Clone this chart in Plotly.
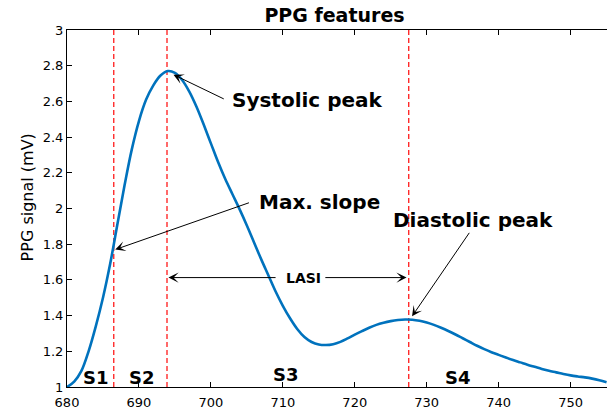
import plotly.graph_objects as go

# --- data ---
time_ms = list(range(680, 756))
ppg_mv = [1.00, 1.03, 1.09, 1.20, 1.34, 1.50, 1.69, 1.91, 2.13, 2.33,
          2.49, 2.61, 2.69, 2.745, 2.77, 2.76, 2.72, 2.655, 2.57, 2.47,
          2.365, 2.26, 2.165, 2.08, 1.995, 1.905, 1.81, 1.715, 1.625, 1.535,
          1.455, 1.385, 1.325, 1.28, 1.252, 1.238, 1.235, 1.24, 1.253, 1.272,
          1.293, 1.313, 1.332, 1.348, 1.36, 1.369, 1.375, 1.378, 1.377, 1.371,
          1.361, 1.348, 1.332, 1.314, 1.294, 1.273, 1.252, 1.231, 1.212, 1.195,
          1.18, 1.165, 1.151, 1.138, 1.125, 1.113, 1.101, 1.091, 1.082, 1.073,
          1.065, 1.059, 1.054, 1.047, 1.038, 1.027]
segment_bounds = [686.5, 693.9, 727.5]
segment_labels = ["S1", "S2", "S3", "S4"]
segment_label_x = [684.05, 690.4, 710.5, 734.4]
segment_label_y = [1.052, 1.052, 1.07, 1.052]
x_ticks = [680, 690, 700, 710, 720, 730, 740, 750]
y_ticks = [1.0, 1.2, 1.4, 1.6, 1.8, 2.0, 2.2, 2.4, 2.6, 2.8, 3.0]
y_tick_text = ["1", "1.2", "1.4", "1.6", "1.8", "2", "2.2", "2.4", "2.6", "2.8", "3"]

FONT = "DejaVu Sans"

fig = go.Figure()
for xb in segment_bounds:
    fig.add_trace(go.Scatter(x=[xb, xb], y=[1, 3], mode="lines",
                             line=dict(color="#ff1a1a", width=1.3, dash="5px,3px"),
                             showlegend=False, hoverinfo="skip"))
fig.add_trace(go.Scatter(x=time_ms, y=ppg_mv, mode="lines",
                         line=dict(color="#0072BD", width=2.6, shape="spline", smoothing=1.0),
                         showlegend=False))

anns = []
def arrow(tail, tip):
    anns.append(dict(x=tip[0], y=tip[1], ax=tail[0], ay=tail[1], xref="x", yref="y",
                     axref="x", ayref="y", text="", showarrow=True, arrowhead=3,
                     arrowsize=1.7, arrowwidth=1, arrowcolor="black", standoff=0, startstandoff=0))

def label(x, y, txt, size, anchor="left"):
    anns.append(dict(x=x, y=y, xref="x", yref="y", text="<b>" + txt + "</b>", showarrow=False,
                     xanchor=anchor, yanchor="middle", font=dict(family=FONT, size=size, color="black")))

arrow((702.0, 2.61), (694.8, 2.75))
label(702.7, 2.61, "Systolic peak", 20)
arrow((705.5, 2.035), (686.7, 1.77))
label(706.4, 2.035, "Max. slope", 20)
arrow((736.06, 1.872), (727.96, 1.396))
label(725.04, 1.938, "Diastolic peak", 20)
arrow((709.2, 1.613), (694.1, 1.613))
arrow((715.7, 1.613), (727.2, 1.613))
label(712.9, 1.611, "LASI", 14, anchor="center")
for t, lx, ly in zip(segment_labels, segment_label_x, segment_label_y):
    label(lx, ly, t, 18, anchor="center")

anns.append(dict(x=-0.0735, y=0.532, xref="paper", yref="paper", text="PPG signal (mV)",
                 textangle=-90, showarrow=False, xanchor="center", yanchor="middle",
                 font=dict(family=FONT, size=16, color="black")))

fig.update_layout(
    width=607, height=411,
    margin=dict(l=67, r=0, t=30, b=24),
    paper_bgcolor="white", plot_bgcolor="white",
    title=dict(text="<b>PPG features</b>", x=334.5 / 607, xref="container", xanchor="center",
               y=1 - 15 / 411, yref="container", yanchor="middle",
               font=dict(family=FONT, size=19, color="black")),
    annotations=anns,
    xaxis=dict(range=[680, 755.06], tickvals=x_ticks, ticks="inside", ticklen=5,
               tickcolor="black", showline=True, linecolor="black", linewidth=1,
               mirror="ticks", showgrid=False, zeroline=False, ticklabelstandoff=3,
               tickfont=dict(family=FONT, size=13, color="black")),
    yaxis=dict(range=[1, 3], tickvals=y_ticks, ticktext=y_tick_text, ticks="inside", ticklen=5,
               tickcolor="black", showline=True, linecolor="black", linewidth=1,
               showgrid=False, zeroline=False,
               tickfont=dict(family=FONT, size=13, color="black")),
)

fig.write_html("out.html")
